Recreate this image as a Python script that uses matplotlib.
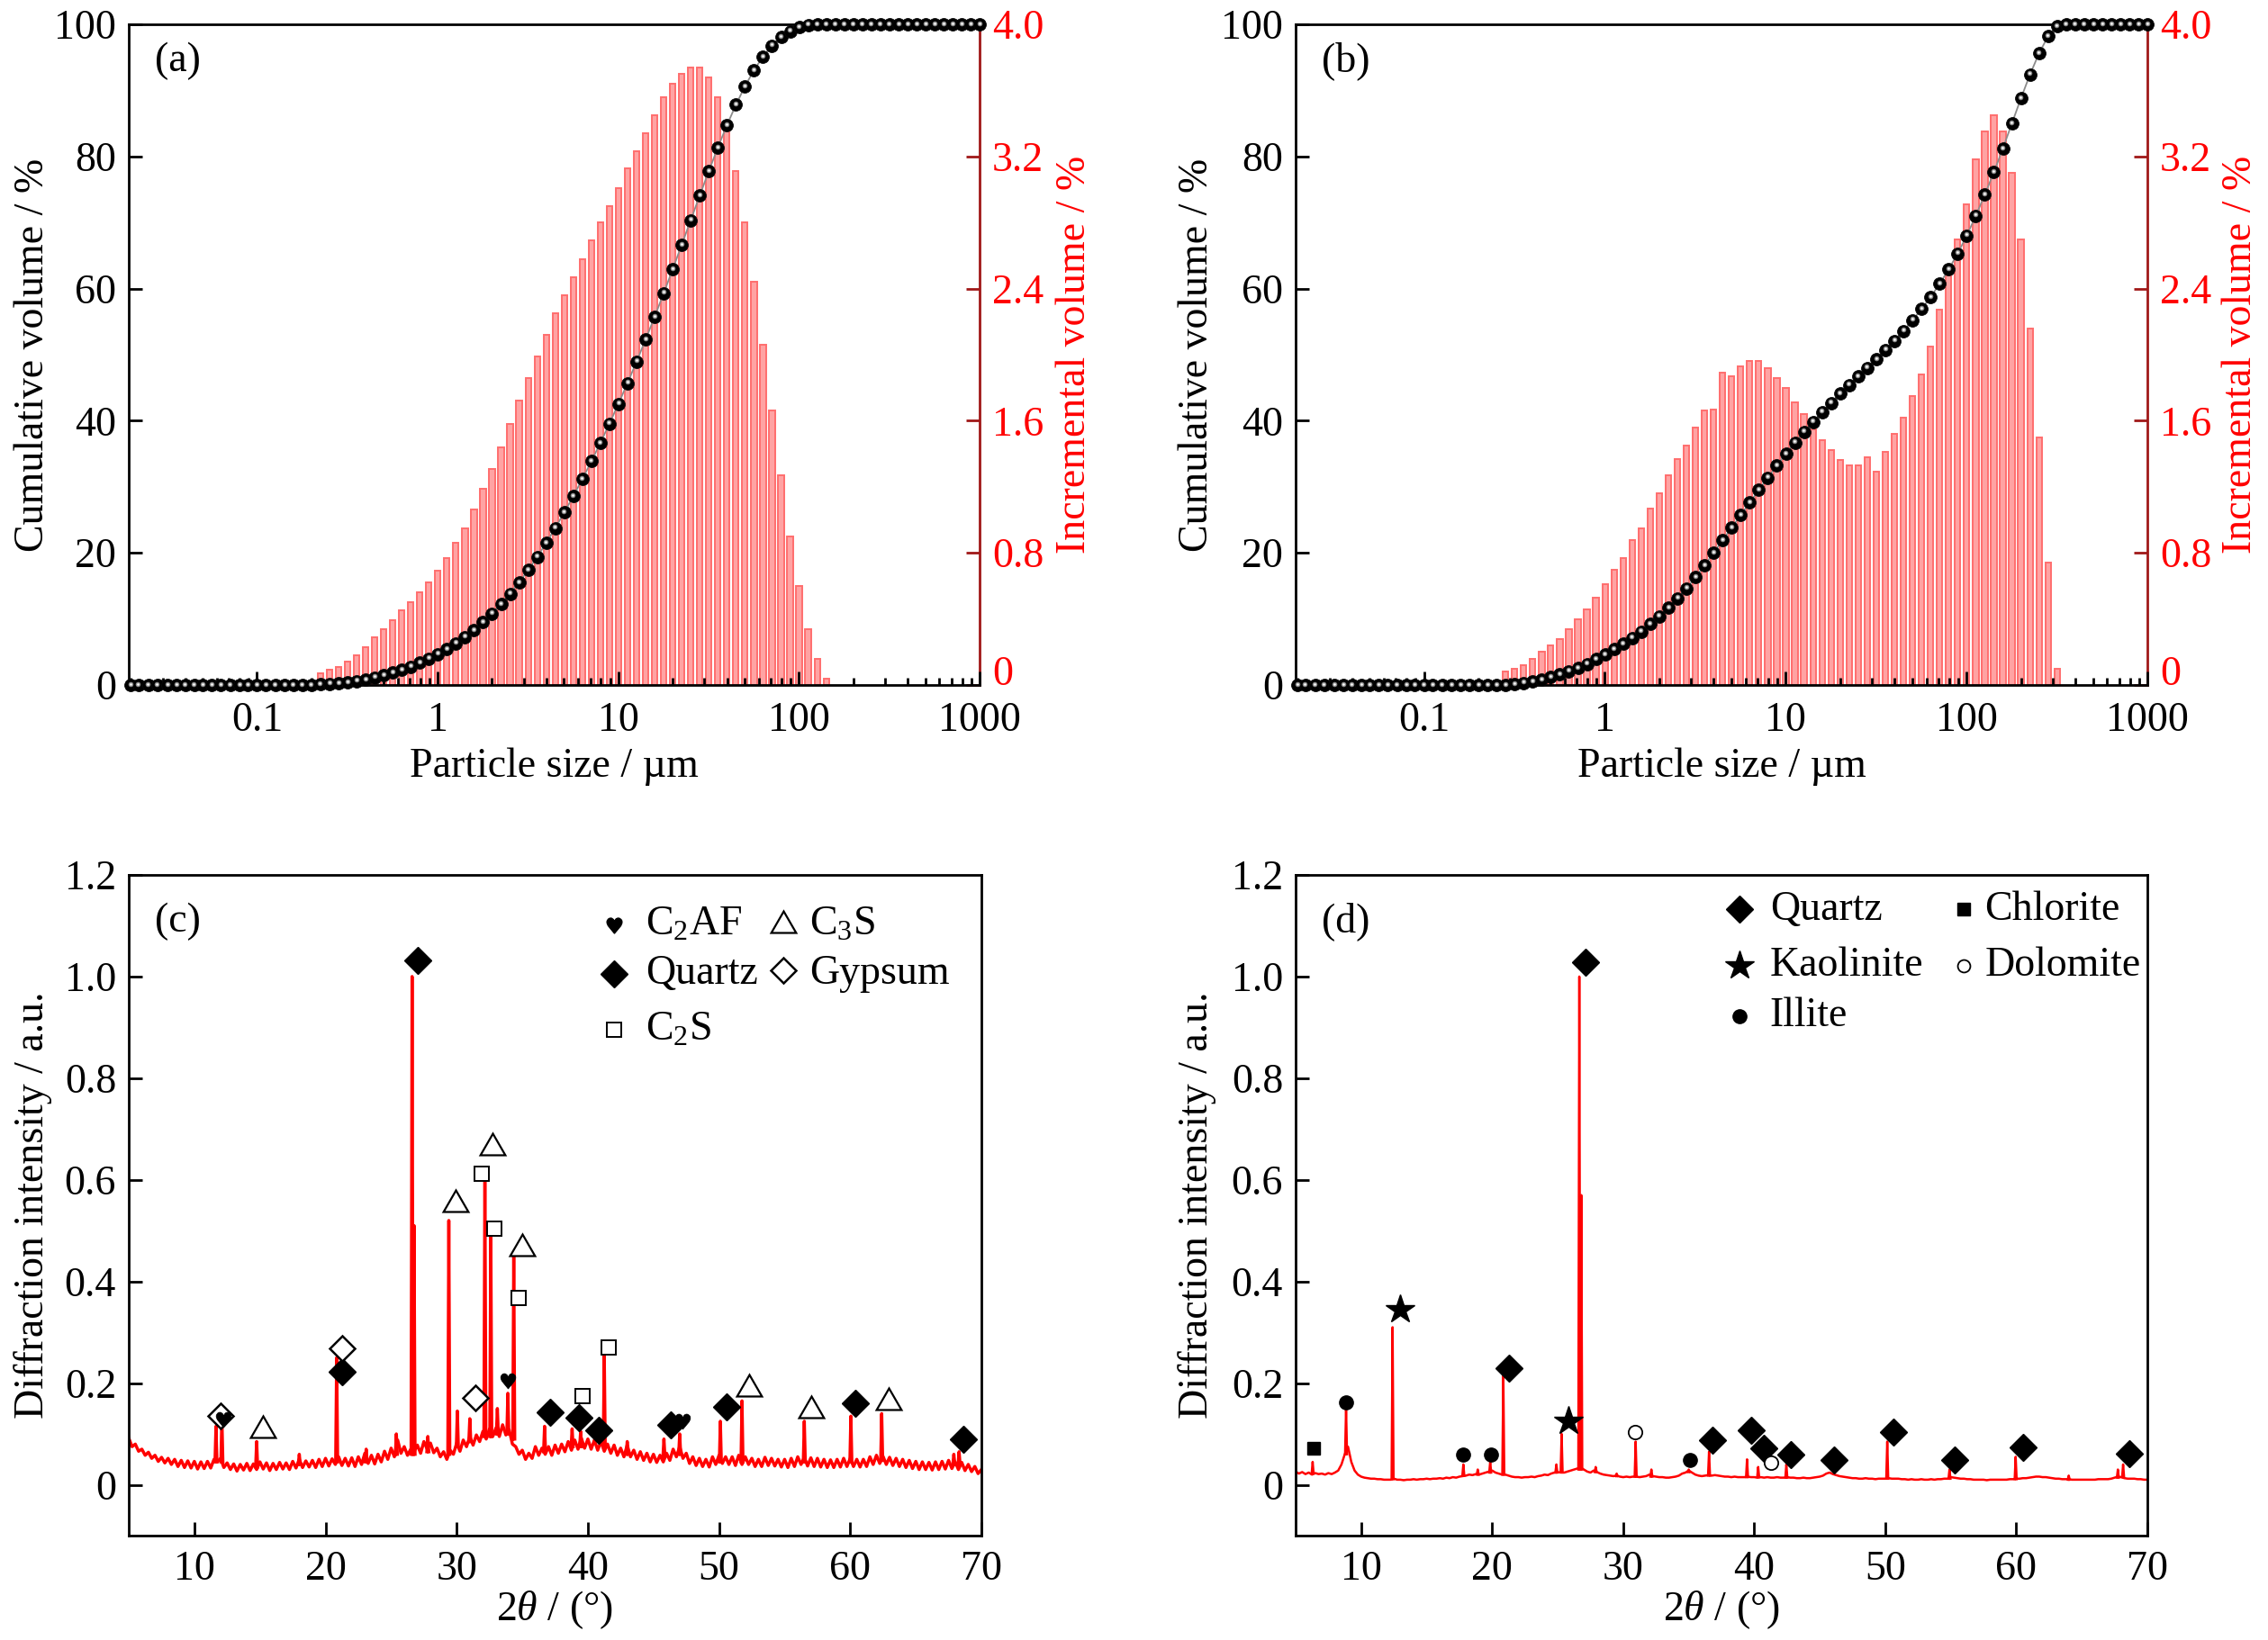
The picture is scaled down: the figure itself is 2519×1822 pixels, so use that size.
import numpy as np
import matplotlib
matplotlib.use('Agg')
import matplotlib.pyplot as plt
from matplotlib.ticker import LogLocator, NullFormatter
from matplotlib.transforms import ScaledTranslation
from matplotlib.textpath import TextPath
from matplotlib.font_manager import FontProperties
from matplotlib.path import Path

plt.rcParams['font.family'] = ['Liberation Serif', 'DejaVu Serif']
plt.rcParams['mathtext.fontset'] = 'custom'
plt.rcParams['mathtext.rm'] = 'Liberation Serif'
plt.rcParams['mathtext.it'] = 'Liberation Serif:italic'

# ---------------- data: particle size distribution ----------------
size_um = [0.020, 0.022, 0.025, 0.028, 0.032, 0.036, 0.040, 0.045, 0.050, 0.056,
           0.063, 0.071, 0.080, 0.089, 0.100, 0.112, 0.126, 0.142, 0.159, 0.178,
           0.200, 0.224, 0.252, 0.283, 0.317, 0.356, 0.399, 0.448, 0.502, 0.564,
           0.632, 0.710, 0.796, 0.893, 1.002, 1.125, 1.262, 1.416, 1.589, 1.783,
           2.000, 2.244, 2.518, 2.825, 3.170, 3.557, 3.991, 4.477, 5.024, 5.637,
           6.325, 7.096, 7.962, 8.934, 10.024, 11.247, 12.619, 14.159, 15.887, 17.825,
           20.000, 22.440, 25.179, 28.251, 31.698, 35.566, 39.905, 44.774, 50.238, 56.368,
           63.246, 70.963, 79.621, 89.337, 100.237, 112.468, 126.191, 141.589, 158.866, 178.250,
           200.000, 224.404, 251.785, 282.508, 316.979, 355.656, 399.052, 447.744, 502.377, 563.677,
           632.456, 709.627, 796.214, 893.367, 1002.374]

inc_a = [0, 0, 0, 0, 0, 0, 0, 0, 0, 0, 0, 0, 0, 0, 0, 0, 0, 0, 0, 0, 0,
         0.07, 0.09, 0.11, 0.14, 0.18, 0.23, 0.29, 0.34, 0.39, 0.45,
         0.50, 0.56, 0.62, 0.69, 0.77, 0.86, 0.95, 1.06, 1.19, 1.31,
         1.44, 1.58, 1.72, 1.86, 1.99, 2.12, 2.25, 2.36, 2.47, 2.58,
         2.69, 2.80, 2.90, 3.01, 3.13, 3.23, 3.34, 3.45, 3.56, 3.64,
         3.70, 3.74, 3.74, 3.68, 3.56, 3.36, 3.11, 2.80, 2.44, 2.06,
         1.66, 1.27, 0.90, 0.60, 0.34, 0.16, 0.04,
         0, 0, 0, 0, 0, 0, 0, 0, 0, 0, 0, 0, 0, 0, 0, 0, 0]

cum_a = [0, 0, 0, 0, 0, 0, 0, 0, 0, 0, 0, 0, 0, 0, 0, 0, 0, 0, 0, 0, 0,
         0.07, 0.16, 0.27, 0.41, 0.59, 0.82, 1.11, 1.45, 1.84, 2.29,
         2.79, 3.35, 3.97, 4.66, 5.43, 6.29, 7.24, 8.30, 9.49, 10.80,
         12.24, 13.82, 15.54, 17.40, 19.39, 21.51, 23.76, 26.12, 28.59, 31.17,
         33.86, 36.66, 39.56, 42.57, 45.70, 48.93, 52.27, 55.72, 59.28, 62.92,
         66.62, 70.36, 74.10, 77.78, 81.34, 84.70, 87.81, 90.61, 93.05, 95.11,
         96.77, 98.04, 98.94, 99.54, 99.88, 100,
         100, 100, 100, 100, 100, 100, 100, 100, 100, 100, 100, 100, 100, 100, 100, 100, 100, 100]

inc_b = [0, 0, 0, 0, 0, 0, 0, 0, 0, 0, 0, 0, 0, 0, 0, 0, 0, 0, 0, 0, 0, 0, 0,
         0.08, 0.10, 0.12, 0.16, 0.20, 0.24, 0.28, 0.34, 0.40, 0.46,
         0.53, 0.61, 0.70, 0.77, 0.88, 0.95, 1.07, 1.16, 1.27, 1.37,
         1.45, 1.56, 1.66, 1.67, 1.89, 1.87, 1.93, 1.96, 1.96, 1.92,
         1.86, 1.80, 1.71, 1.64, 1.55, 1.48, 1.42, 1.36, 1.33,
         1.33, 1.38, 1.29, 1.41, 1.52, 1.62, 1.75, 1.88, 2.05,
         2.27, 2.48, 2.70, 2.91, 3.18, 3.35, 3.45, 3.35, 3.10, 2.70,
         2.16, 1.50, 0.74, 0.10,
         0, 0, 0, 0, 0, 0, 0, 0, 0, 0]

cum_b = [0, 0, 0, 0, 0, 0, 0, 0, 0, 0, 0, 0, 0, 0, 0, 0, 0, 0, 0, 0, 0, 0, 0, 0,
         0.1, 0.3, 0.5, 0.8, 1.2, 1.6, 2.1, 2.6, 3.2, 3.9,
         4.6, 5.4, 6.2, 7.1, 8.1, 9.2, 10.4, 11.7, 13.1, 14.6,
         16.3, 18.1, 20.0, 21.9, 23.8, 25.7, 27.6, 29.5, 31.4, 33.2,
         35.0, 36.7, 38.3, 39.8, 41.3, 42.7, 44.1, 45.4, 46.7, 48.0,
         49.3, 50.7, 52.1, 53.6, 55.2, 56.9, 58.7, 60.7, 62.9, 65.3,
         68.0, 71.0, 74.2, 77.6, 81.2, 85.0, 88.8, 92.4, 95.6, 98.2, 99.7,
         100, 100, 100, 100, 100, 100, 100, 100, 100, 100]

# ---------------- data: XRD (c) ----------------
base_start, base_step = 5.0, 0.25
c_base = [0.092, 0.075, 0.080, 0.066, 0.070, 0.058, 0.064, 0.052,
          0.058, 0.046, 0.054, 0.043, 0.052, 0.040, 0.050, 0.036,
          0.048, 0.034, 0.047, 0.033, 0.046, 0.031, 0.045, 0.032,
          0.046, 0.033, 0.050, 0.045, 0.052, 0.034, 0.043, 0.030,
          0.041, 0.027, 0.040, 0.029, 0.042, 0.028, 0.041, 0.030,
          0.045, 0.031, 0.043, 0.028, 0.042, 0.030, 0.044, 0.031,
          0.043, 0.030, 0.046, 0.033, 0.050, 0.034, 0.047, 0.035,
          0.048, 0.034, 0.050, 0.036, 0.052, 0.037, 0.051, 0.040,
          0.055, 0.038, 0.052, 0.037, 0.053, 0.036, 0.055, 0.040,
          0.062, 0.042, 0.058, 0.041, 0.060, 0.045, 0.066, 0.050,
          0.072, 0.055, 0.088, 0.062, 0.075, 0.058, 0.070, 0.065,
          0.078, 0.062, 0.085, 0.070, 0.082, 0.063, 0.072, 0.055,
          0.065, 0.050, 0.068, 0.060, 0.082, 0.066, 0.088, 0.075,
          0.095, 0.078, 0.098, 0.085, 0.105, 0.090, 0.110, 0.095,
          0.112, 0.095, 0.118, 0.098, 0.108, 0.080, 0.075, 0.060,
          0.068, 0.050, 0.062, 0.052, 0.075, 0.058, 0.072, 0.060,
          0.075, 0.058, 0.078, 0.062, 0.080, 0.065, 0.085, 0.068,
          0.088, 0.070, 0.092, 0.072, 0.090, 0.070, 0.088, 0.068,
          0.085, 0.066, 0.080, 0.062, 0.078, 0.058, 0.072, 0.055,
          0.078, 0.055, 0.068, 0.050, 0.065, 0.048, 0.062, 0.045,
          0.060, 0.044, 0.058, 0.045, 0.062, 0.048, 0.070, 0.055,
          0.075, 0.052, 0.062, 0.042, 0.055, 0.038, 0.052, 0.036,
          0.050, 0.035, 0.055, 0.040, 0.058, 0.042, 0.055, 0.040,
          0.055, 0.038, 0.058, 0.040, 0.055, 0.040, 0.052, 0.036,
          0.050, 0.036, 0.054, 0.038, 0.052, 0.037, 0.050, 0.035,
          0.050, 0.034, 0.052, 0.036, 0.055, 0.040, 0.054, 0.037,
          0.053, 0.036, 0.052, 0.035, 0.050, 0.034, 0.049, 0.034,
          0.050, 0.035, 0.052, 0.036, 0.052, 0.036, 0.050, 0.035,
          0.050, 0.036, 0.055, 0.040, 0.058, 0.042, 0.056, 0.040,
          0.054, 0.038, 0.052, 0.036, 0.050, 0.034, 0.048, 0.032,
          0.046, 0.030, 0.045, 0.030, 0.044, 0.029, 0.045, 0.030,
          0.046, 0.031, 0.048, 0.032, 0.045, 0.030, 0.044, 0.028,
          0.040, 0.026, 0.036, 0.022, 0.030]
# peaks: (2theta, top, base)
c_peaks = [(11.65, 0.115, 0.045), (12.1, 0.13, 0.045), (14.75, 0.085, 0.035), (18.0, 0.06, 0.04),
           (20.85, 0.25, 0.045), (23.1, 0.07, 0.045), (25.4, 0.10, 0.06), (26.6, 1.0, 0.06),
           (26.75, 0.51, 0.06), (27.8, 0.095, 0.065), (29.4, 0.52, 0.06), (30.05, 0.145, 0.075),
           (31.0, 0.13, 0.085), (32.15, 0.61, 0.095), (32.6, 0.50, 0.095), (33.1, 0.15, 0.10),
           (33.9, 0.18, 0.10), (34.35, 0.45, 0.09), (36.7, 0.115, 0.065), (38.8, 0.11, 0.075),
           (39.45, 0.105, 0.075), (41.25, 0.255, 0.075), (43.0, 0.085, 0.06), (45.8, 0.09, 0.055),
           (47.0, 0.10, 0.06), (50.1, 0.125, 0.045), (51.75, 0.165, 0.045), (56.5, 0.125, 0.045),
           (60.05, 0.135, 0.045), (62.4, 0.14, 0.048), (67.9, 0.06, 0.04), (68.3, 0.065, 0.04)]

c_quartz = [(21.3, 0.222), (27.05, 1.032), (37.1, 0.143), (39.3, 0.132), (40.8, 0.107),
            (46.3, 0.118), (50.6, 0.153), (60.4, 0.161), (68.65, 0.09)]
c_gypsum = [(12.0, 0.135), (21.3, 0.268), (31.4, 0.171)]
c_c3s = [(15.2, 0.108), (29.9, 0.551), (32.75, 0.663), (35.0, 0.465), (52.3, 0.188),
         (57.0, 0.146), (62.9, 0.163)]
c_c2s = [(31.9, 0.612), (32.9, 0.504), (34.7, 0.368), (39.6, 0.174), (41.6, 0.27)]
c_c2af = [(12.2, 0.128), (33.9, 0.205), (47.2, 0.125)]

# ---------------- data: XRD (d) ----------------
d_base = [0.026, 0.022, 0.025, 0.021, 0.024, 0.020, 0.023, 0.021,
          0.022, 0.020, 0.023, 0.021, 0.024, 0.028, 0.040, 0.060,
          0.075, 0.045, 0.028, 0.020, 0.016, 0.014, 0.013, 0.012,
          0.012, 0.011, 0.011, 0.010, 0.010, 0.010, 0.012, 0.010,
          0.010, 0.009, 0.010, 0.010, 0.011, 0.010, 0.011, 0.011,
          0.012, 0.011, 0.012, 0.012, 0.013, 0.012, 0.014, 0.013,
          0.015, 0.014, 0.016, 0.017, 0.018, 0.020, 0.019, 0.021,
          0.020, 0.022, 0.024, 0.026, 0.028, 0.024, 0.022, 0.020,
          0.020, 0.018, 0.016, 0.015, 0.015, 0.014, 0.015, 0.015,
          0.016, 0.015, 0.017, 0.018, 0.020, 0.019, 0.022, 0.024,
          0.025, 0.024, 0.024, 0.026, 0.028, 0.030, 0.032, 0.034,
          0.030, 0.026, 0.024, 0.028, 0.025, 0.022, 0.020, 0.019,
          0.018, 0.017, 0.018, 0.016, 0.015, 0.016, 0.015, 0.016,
          0.016, 0.015, 0.016, 0.017, 0.020, 0.017, 0.016, 0.015,
          0.015, 0.014, 0.014, 0.015, 0.016, 0.018, 0.022, 0.024,
          0.028, 0.024, 0.020, 0.018, 0.017, 0.018, 0.019, 0.018,
          0.019, 0.018, 0.017, 0.016, 0.016, 0.015, 0.016, 0.015,
          0.015, 0.015, 0.016, 0.015, 0.015, 0.014, 0.015, 0.014,
          0.015, 0.014, 0.014, 0.015, 0.014, 0.014, 0.015, 0.014,
          0.014, 0.013, 0.013, 0.014, 0.013, 0.013, 0.014, 0.015,
          0.016, 0.018, 0.022, 0.024, 0.021, 0.019, 0.017, 0.016,
          0.015, 0.014, 0.013, 0.013, 0.012, 0.012, 0.013, 0.012,
          0.012, 0.011, 0.012, 0.012, 0.012, 0.013, 0.012, 0.012,
          0.012, 0.011, 0.011, 0.010, 0.011, 0.010, 0.010, 0.011,
          0.010, 0.010, 0.011, 0.010, 0.011, 0.011, 0.012, 0.012,
          0.015, 0.014, 0.013, 0.012, 0.012, 0.011, 0.011, 0.010,
          0.010, 0.010, 0.010, 0.009, 0.010, 0.010, 0.010, 0.010,
          0.010, 0.010, 0.011, 0.011, 0.012, 0.012, 0.013, 0.013,
          0.014, 0.015, 0.016, 0.016, 0.015, 0.015, 0.014, 0.013,
          0.012, 0.012, 0.011, 0.011, 0.011, 0.010, 0.010, 0.010,
          0.010, 0.010, 0.010, 0.010, 0.010, 0.011, 0.011, 0.011,
          0.011, 0.012, 0.014, 0.016, 0.015, 0.013, 0.012, 0.012,
          0.012, 0.011, 0.011, 0.010, 0.010]
d_peaks = [(6.3, 0.045, 0.022), (8.85, 0.15, 0.06), (12.4, 0.31, 0.011), (17.8, 0.04, 0.018),
           (18.9, 0.03, 0.02), (19.85, 0.045, 0.024), (20.85, 0.215, 0.02), (24.9, 0.04, 0.024),
           (25.3, 0.10, 0.025), (26.65, 1.0, 0.03), (26.8, 0.57, 0.03), (27.9, 0.035, 0.025),
           (29.5, 0.022, 0.017), (30.95, 0.085, 0.016), (32.15, 0.03, 0.016), (35.0, 0.03, 0.025),
           (36.55, 0.065, 0.018), (39.45, 0.05, 0.015), (40.3, 0.035, 0.015), (42.45, 0.04, 0.014),
           (50.15, 0.085, 0.012), (54.9, 0.03, 0.012), (59.95, 0.055, 0.011), (64.0, 0.018, 0.01),
           (67.75, 0.03, 0.014), (68.15, 0.04, 0.015)]

d_quartz = [(21.3, 0.23), (27.1, 1.029), (36.8, 0.087), (39.75, 0.107), (40.75, 0.072),
            (42.8, 0.059), (46.1, 0.049), (50.6, 0.103), (55.3, 0.049), (60.5, 0.074), (68.6, 0.062)]
d_kaolinite = [(13.0, 0.344), (25.8, 0.125)]
d_illite = [(8.85, 0.163), (17.75, 0.059), (19.9, 0.059), (35.1, 0.049)]
d_chlorite = [(6.35, 0.072)]
d_dolomite = [(30.9, 0.103), (41.3, 0.044)]

# ---------------- figure ----------------
W, H = 2519, 1822
fig = plt.figure(figsize=(W / 100, H / 100), dpi=100)
FS = 33
LW = 2.0
DARKRED = '#A01818'


def rect(l, t, r, b):
    return [l / W, 1 - b / H, (r - l) / W, (b - t) / H]


def heart_marker():
    tp = TextPath((0, 0), '\u2665', size=10, prop=FontProperties(family='DejaVu Sans'))
    v = tp.vertices.copy()
    ext = tp.get_extents()
    v[:, 0] -= (ext.x0 + ext.x1) / 2
    v[:, 1] -= (ext.y0 + ext.y1) / 2
    return Path(v, tp.codes)


HEART = heart_marker()
TRI = (3, 0, 0)


def style_box(ax):
    for s in ax.spines.values():
        s.set_linewidth(LW)
        s.set_color('black')


def psd_panel(rc, cum, inc, letter, ylab_x, rlab_x):
    ax = fig.add_axes(rc)
    ax2 = ax.twinx()
    ax.set_zorder(ax2.get_zorder() + 1)
    ax.patch.set_visible(False)
    x = np.asarray(size_um)
    inc = np.asarray(inc, dtype=float)
    m = inc > 0
    hw = 0.0155
    ax2.bar(x[m] * 10 ** (-hw), inc[m], width=x[m] * (10 ** hw - 10 ** (-hw)), align='edge',
            color='#FFA3A3', edgecolor='#FF6E6E', linewidth=1.4)
    ax.set_xscale('log')
    ax.set_xlim(0.0195, 1000)
    ax.set_ylim(0, 100)
    ax2.set_ylim(0, 4)
    # spheres
    ax.plot(x, cum, color='#8c8c8c', lw=1.3, zorder=3, clip_on=False)
    ax.plot(x, cum, 'o', ls='none', ms=10.0, mfc='black', mec='#0a0a0a', mew=0.6, zorder=4, clip_on=False)
    tr = ax.transData + ScaledTranslation(-0.3 / 72, 1.0 / 72, fig.dpi_scale_trans)
    ax.plot(x, cum, 'o', ls='none', ms=4.0, mfc='#8a8a8a', mec='none', transform=tr, zorder=5, clip_on=False)
    ax.plot(x, cum, 'o', ls='none', ms=1.9, mfc='white', mec='none', transform=tr, zorder=6, clip_on=False)

    style_box(ax)
    ax.spines['right'].set_visible(False)
    for s in ['left', 'top', 'bottom']:
        ax2.spines[s].set_visible(False)
    ax2.spines['right'].set_color(DARKRED)
    ax2.spines['right'].set_linewidth(LW)

    ax.set_xticks([0.1, 1, 10, 100, 1000], labels=['0.1', '1', '10', '100', '1000'])
    ax.xaxis.set_minor_locator(LogLocator(base=10, subs=np.arange(2, 10), numticks=30))
    ax.xaxis.set_minor_formatter(NullFormatter())
    ax.set_yticks([0, 20, 40, 60, 80, 100])
    ax.tick_params(axis='both', which='both', direction='in', top=False, right=False,
                   labelsize=FS, width=LW, color='black')
    ax.tick_params(which='major', length=11)
    ax.tick_params(which='minor', length=6)
    ax.tick_params(axis='x', pad=13)
    ax.tick_params(axis='y', pad=10)
    ax2.set_yticks([0, 0.8, 1.6, 2.4, 3.2, 4.0], labels=['0', '0.8', '1.6', '2.4', '3.2', '4.0'])
    ax2.tick_params(axis='y', direction='in', length=11, width=LW, color=DARKRED,
                    labelcolor='red', labelsize=FS, pad=10)
    rlabels = ax2.get_yticklabels()
    for t in rlabels:
        t.set_verticalalignment('center_baseline')
    rlabels[0].set_verticalalignment('baseline')

    ax.set_xlabel('Particle size / \u00b5m', fontsize=FS)
    ax.xaxis.set_label_coords(0.5, -0.123)
    ax.xaxis.label.set_va('center')
    ax.set_ylabel('Cumulative volume / %', fontsize=FS)
    ax.yaxis.set_label_coords(ylab_x, 0.5)
    ax.yaxis.label.set_va('center')
    ax2.set_ylabel('Incremental volume / %', fontsize=FS, color='red')
    ax2.yaxis.set_label_coords(rlab_x, 0.5)
    ax2.yaxis.label.set_va('center')
    ax.text(0.031, 0.945, letter, transform=ax.transAxes, fontsize=FS, ha='left', va='center')
    return ax


def pts(lst):
    a = np.asarray(lst, dtype=float)
    return a[:, 0], a[:, 1]


def xrd_panel(rc, base, peaks, letter, ylab_x, lw):
    ax = fig.add_axes(rc)
    th = base_start + base_step * np.arange(len(base))
    ax.plot(th, base, color='red', lw=lw, zorder=2)
    hw = 0.075
    for p, top, b in peaks:
        ax.plot([p - hw, p, p + hw], [b, top, b], color='red', lw=lw, zorder=2)
    ax.set_xlim(5, 70)
    ax.set_ylim(-0.1, 1.2)
    ax.set_xticks([10, 20, 30, 40, 50, 60, 70])
    ax.set_yticks([0, 0.2, 0.4, 0.6, 0.8, 1.0, 1.2],
                  labels=['0', '0.2', '0.4', '0.6', '0.8', '1.0', '1.2'])
    style_box(ax)
    ax.tick_params(axis='both', which='both', direction='in', top=False, right=False,
                   labelsize=FS, width=LW, length=11)
    ax.tick_params(axis='x', pad=12)
    ax.tick_params(axis='y', pad=10)
    ax.set_xlabel('2$\\it{\\theta}$ / (\u00b0)', fontsize=FS)
    ax.xaxis.set_label_coords(0.5, -0.112)
    ax.xaxis.label.set_va('center')
    ax.set_ylabel('Diffraction intensity / a.u.', fontsize=FS)
    ax.yaxis.set_label_coords(ylab_x, 0.5)
    ax.yaxis.label.set_va('center')
    ax.text(0.031, 0.93, letter, transform=ax.transAxes, fontsize=FS, ha='left', va='center')
    return ax


# (a)
psd_panel(rect(143, 27, 1088, 761), cum_a, inc_a, '(a)', -0.112, 1.112)
# (b)
psd_panel(rect(1439, 27, 2385, 761), cum_b, inc_b, '(b)', -0.116, 1.110)

# (c)
axc = xrd_panel(rect(143, 972, 1090, 1706), c_base, c_peaks, '(c)', -0.112, 2.5)
kw = dict(ls='none', zorder=5, clip_on=False)
x, y = pts(c_quartz)
axc.plot(x, y, marker='D', ms=15.5, mfc='black', mec='black', **kw)
x, y = pts(c_gypsum)
axc.plot(x, y, marker='D', ms=14.5, mfc='white', mec='black', mew=1.8, **kw)
x, y = pts(c_c3s)
axc.plot(x, y, marker=TRI, ms=23, mfc='white', mec='black', mew=1.6, **kw)
x, y = pts(c_c2s)
axc.plot(x, y, marker='s', ms=12, mfc='white', mec='black', mew=1.4, **kw)
x, y = pts(c_c2af)
axc.plot(x, y, marker=HEART, ms=15, mfc='black', mec='black', mew=0.5, **kw)
# legend (c)
axc.plot([42.0], [1.101], marker=HEART, ms=15, mfc='black', mec='black', **kw)
axc.text(44.4, 1.101, 'C$_2$AF', fontsize=FS, va='center', ha='left')
axc.plot([54.9], [1.101], marker=TRI, ms=23, mfc='white', mec='black', mew=1.6, **kw)
axc.text(56.9, 1.101, 'C$_3$S', fontsize=FS, va='center', ha='left')
axc.plot([42.0], [1.005], marker='D', ms=15.5, mfc='black', mec='black', **kw)
axc.text(44.4, 1.005, 'Quartz', fontsize=FS, va='center', ha='left')
axc.plot([54.9], [1.012], marker='D', ms=14.5, mfc='white', mec='black', mew=1.8, **kw)
axc.text(56.9, 1.005, 'Gypsum', fontsize=FS, va='center', ha='left')
axc.plot([42.0], [0.895], marker='s', ms=12, mfc='white', mec='black', mew=1.4, **kw)
axc.text(44.4, 0.895, 'C$_2$S', fontsize=FS, va='center', ha='left')

# (d)
axd = xrd_panel(rect(1439, 972, 2385, 1706), d_base, d_peaks, '(d)', -0.116, 1.8)
x, y = pts(d_quartz)
axd.plot(x, y, marker='D', ms=15.5, mfc='black', mec='black', **kw)
x, y = pts(d_kaolinite)
axd.plot(x, y, marker='*', ms=24, mfc='black', mec='black', **kw)
x, y = pts(d_illite)
axd.plot(x, y, marker='o', ms=11, mfc='black', mec='black', **kw)
x, y = pts(d_chlorite)
axd.plot(x, y, marker='s', ms=10, mfc='black', mec='black', **kw)
x, y = pts(d_dolomite)
axd.plot(x, y, marker='o', ms=11, mfc='white', mec='black', mew=1.3, **kw)
# legend (d)
axd.plot([38.9], [1.132], marker='D', ms=15.5, mfc='black', mec='black', **kw)
axd.text(41.2, 1.132, 'Quartz', fontsize=FS, va='center', ha='left')
axd.plot([56.0], [1.132], marker='s', ms=10, mfc='black', mec='black', **kw)
axd.text(57.6, 1.132, 'Chlorite', fontsize=FS, va='center', ha='left')
axd.plot([38.9], [1.022], marker='*', ms=24, mfc='black', mec='black', **kw)
axd.text(41.2, 1.022, 'Kaolinite', fontsize=FS, va='center', ha='left')
axd.plot([56.0], [1.022], marker='o', ms=10, mfc='white', mec='black', mew=1.3, **kw)
axd.text(57.6, 1.022, 'Dolomite', fontsize=FS, va='center', ha='left')
axd.plot([38.9], [0.922], marker='o', ms=11, mfc='black', mec='black', **kw)
axd.text(41.2, 0.922, 'Illite', fontsize=FS, va='center', ha='left')

fig.savefig('out.png', dpi=100)
